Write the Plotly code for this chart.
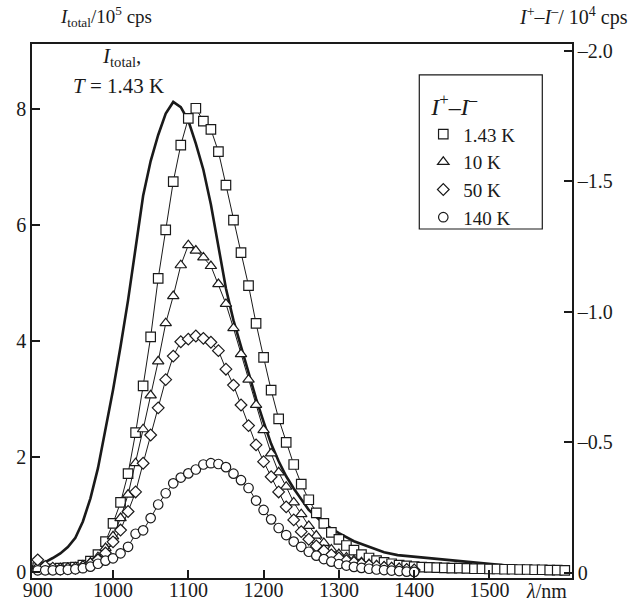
import plotly.graph_objects as go

# Wavelength grids (nm)
lam_total = [892, 900, 910, 920, 930, 940, 950, 960, 970, 980, 990, 1000, 1010, 1020,
             1030, 1040, 1050, 1060, 1070, 1080, 1090, 1100, 1110, 1120, 1130, 1140,
             1150, 1160, 1170, 1180, 1190, 1200, 1210, 1220, 1230, 1240, 1260, 1280,
             1300, 1320, 1340, 1360, 1378, 1440, 1530, 1600]
lam_long = list(range(900, 1601, 10))
lam_short = list(range(900, 1401, 10))

# Total intensity at T = 1.43 K, units of 1e5 cps (left axis)
i_total = [0.10, 0.13, 0.18, 0.25, 0.33, 0.44, 0.60, 0.88, 1.28, 1.80, 2.45, 3.15, 3.90, 4.70,
           5.60, 6.50, 7.10, 7.55, 7.92, 8.12, 8.03, 7.80, 7.40, 6.95, 6.35, 5.65,
           4.90, 4.35, 3.90, 3.45, 3.00, 2.60, 2.22, 1.92, 1.66, 1.45, 1.08, 0.84,
           0.68, 0.54, 0.44, 0.35, 0.30, 0.22, 0.11, 0.06]

# Difference signal I+ - I-, units of 1e4 cps (right axis)
d_143 = [-0.020, -0.015, -0.015, -0.018, -0.020, -0.022, -0.030, -0.045, -0.070, -0.120,
         -0.190, -0.270, -0.380, -0.537, -0.716, -0.904, -1.128, -1.313, -1.498, -1.638,
         -1.740, -1.779, -1.730, -1.698, -1.613, -1.485, -1.351, -1.226, -1.100, -0.955,
         -0.825, -0.700, -0.590, -0.500, -0.415, -0.340, -0.280, -0.230, -0.190, -0.155,
         -0.128, -0.105, -0.087, -0.070, -0.057, -0.047, -0.040, -0.035, -0.030, -0.027,
         -0.024, -0.022, -0.021, -0.020, -0.019, -0.018, -0.018, -0.017, -0.016, -0.016,
         -0.015, -0.015, -0.014, -0.014, -0.013, -0.013, -0.012, -0.012, -0.011, -0.011,
         -0.010]
d_10 = [-0.025, -0.018, -0.015, -0.015, -0.018, -0.020, -0.028, -0.040, -0.060, -0.095,
        -0.140, -0.210, -0.300, -0.420, -0.550, -0.680, -0.810, -0.956, -1.060, -1.178,
        -1.255, -1.234, -1.208, -1.175, -1.106, -1.030, -0.937, -0.838, -0.740, -0.643,
        -0.547, -0.458, -0.385, -0.330, -0.270, -0.225, -0.180, -0.143, -0.115, -0.090,
        -0.072, -0.059, -0.049, -0.041, -0.034, -0.029, -0.025, -0.021, -0.018, -0.015,
        -0.013]
d_50 = [-0.050, -0.025, -0.018, -0.015, -0.016, -0.018, -0.024, -0.034, -0.050, -0.076,
        -0.119, -0.164, -0.235, -0.310, -0.420, -0.528, -0.632, -0.740, -0.830, -0.885,
        -0.895, -0.907, -0.898, -0.883, -0.851, -0.780, -0.719, -0.643, -0.564, -0.490,
        -0.426, -0.368, -0.310, -0.253, -0.203, -0.158, -0.129, -0.103, -0.085, -0.069,
        -0.057, -0.047, -0.040, -0.034, -0.029, -0.025, -0.021, -0.018, -0.015, -0.013,
        -0.011]
d_140 = [-0.010, -0.010, -0.010, -0.011, -0.012, -0.014, -0.018, -0.024, -0.035, -0.047,
         -0.056, -0.075, -0.100, -0.150, -0.163, -0.210, -0.262, -0.305, -0.343, -0.365,
         -0.381, -0.396, -0.415, -0.420, -0.417, -0.405, -0.380, -0.355, -0.325, -0.277,
         -0.241, -0.205, -0.172, -0.145, -0.120, -0.100, -0.081, -0.066, -0.053, -0.043,
         -0.034, -0.028, -0.023, -0.019, -0.016, -0.013, -0.011, -0.009, -0.007, -0.005,
         -0.004]

x_ticks = [900, 1000, 1100, 1200, 1300, 1400, 1500]
y_ticks = [0, 2, 4, 6, 8]
y2_ticks = [0, -0.5, -1.0, -1.5, -2.0]
y2_labels = ["0", "\u20130.5", "\u20131.0", "\u20131.5", "\u20132.0"]

FONT = "Liberation Serif, Times New Roman, DejaVu Serif, serif"
INK = "#1a1a1a"

fig = go.Figure()

fig.add_trace(go.Scatter(
    x=lam_total, y=i_total, mode="lines", yaxis="y",
    line=dict(color=INK, width=2.6), showlegend=False, hoverinfo="skip"))

series = [
    ("1.43 K", lam_long, d_143, "square", 9.5),
    ("10 K", lam_short, d_10, "triangle-up", 10),
    ("50 K", lam_short, d_50, "diamond", 9),
    ("140 K", lam_short, d_140, "circle", 9.5),
]
for name, xs, ys, sym, size in series:
    fig.add_trace(go.Scatter(
        x=xs, y=ys, mode="lines", yaxis="y2",
        line=dict(color=INK, width=1), showlegend=False, hoverinfo="skip"))
    fig.add_trace(go.Scatter(
        x=xs, y=ys, mode="markers", yaxis="y2", name=name,
        marker=dict(symbol=sym, size=size, color="white",
                    line=dict(color=INK, width=1.2))))

fig.update_layout(
    width=631, height=608,
    margin=dict(l=32, r=59, t=44, b=30),
    paper_bgcolor="white", plot_bgcolor="white",
    font=dict(family=FONT, size=20, color=INK),
    xaxis=dict(
        range=[892.4, 1609.6], showgrid=False, zeroline=False, automargin=False,
        showline=True, linecolor=INK, linewidth=1.5, mirror=True,
        tickmode="array", tickvals=x_ticks, ticktext=[str(v) for v in x_ticks],
        ticks="", ticklabelstandoff=-7, tickfont=dict(family=FONT, size=20),
        minor=dict(tickmode="array", tickvals=x_ticks[1:], ticks="inside",
                   ticklen=8, tickwidth=1.5, tickcolor=INK),
    ),
    yaxis=dict(
        range=[-0.095, 9.12], showgrid=False, zeroline=False, automargin=False,
        showline=True, linecolor=INK, linewidth=1.5,
        tickmode="array", tickvals=y_ticks, ticks="inside",
        ticklen=8, tickwidth=1.5, tickcolor=INK, tickfont=dict(family=FONT, size=20),
    ),
    yaxis2=dict(
        overlaying="y", side="right", automargin=False,
        range=[0.0195, -2.025], showgrid=False, zeroline=False,
        showline=True, linecolor=INK, linewidth=1.5,
        tickmode="array", tickvals=y2_ticks, ticktext=y2_labels, ticks="inside",
        ticklen=8, tickwidth=1.5, tickcolor=INK, tickfont=dict(family=FONT, size=20),
    ),
    legend=dict(
        x=0.7246, y=0.925, xanchor="left", yanchor="top",
        bgcolor="rgba(0,0,0,0)", borderwidth=0,
        title=dict(text="&nbsp;<i>I</i><sup>+</sup>\u2013<i>I</i><sup>\u2013</sup>",
                   font=dict(family=FONT, size=24)),
        font=dict(family=FONT, size=19), tracegroupgap=0,
    ),
)

# Legend frame
fig.add_shape(type="rect", xref="paper", yref="paper",
              x0=0.7172, x1=0.945, y0=0.6536, y1=0.942,
              line=dict(color=INK, width=1.2), fillcolor="rgba(0,0,0,0)", layer="above")

annotations = [
    dict(text="<i>I</i><sub>total</sub>/10<sup>5</sup> cps", size=19,
         x=0.048, y=1.0506, xanchor="left", yanchor="middle", align="left"),
    dict(text="<i>I</i><sup>+</sup>\u2013<i>I</i><sup>\u2013</sup>/ 10<sup>4</sup> cps", size=20,
         x=1.108, y=1.0506, xanchor="right", yanchor="middle", align="right"),
    dict(text="<i>\u03bb</i>/nm", size=20,
         x=0.912, y=-0.0243, xanchor="left", yanchor="middle", align="left"),
    dict(text="<i>I</i><sub>total</sub>,", size=21,
         x=0.125, y=0.975, xanchor="left", yanchor="middle", align="left"),
    dict(text="<i>T</i> = 1.43 K", size=21,
         x=0.073, y=0.921, xanchor="left", yanchor="middle", align="left"),
]
for a in annotations:
    size = a.pop("size")
    fig.add_annotation(xref="paper", yref="paper", showarrow=False,
                       font=dict(family=FONT, size=size, color=INK), **a)

fig.write_html("out.html")
